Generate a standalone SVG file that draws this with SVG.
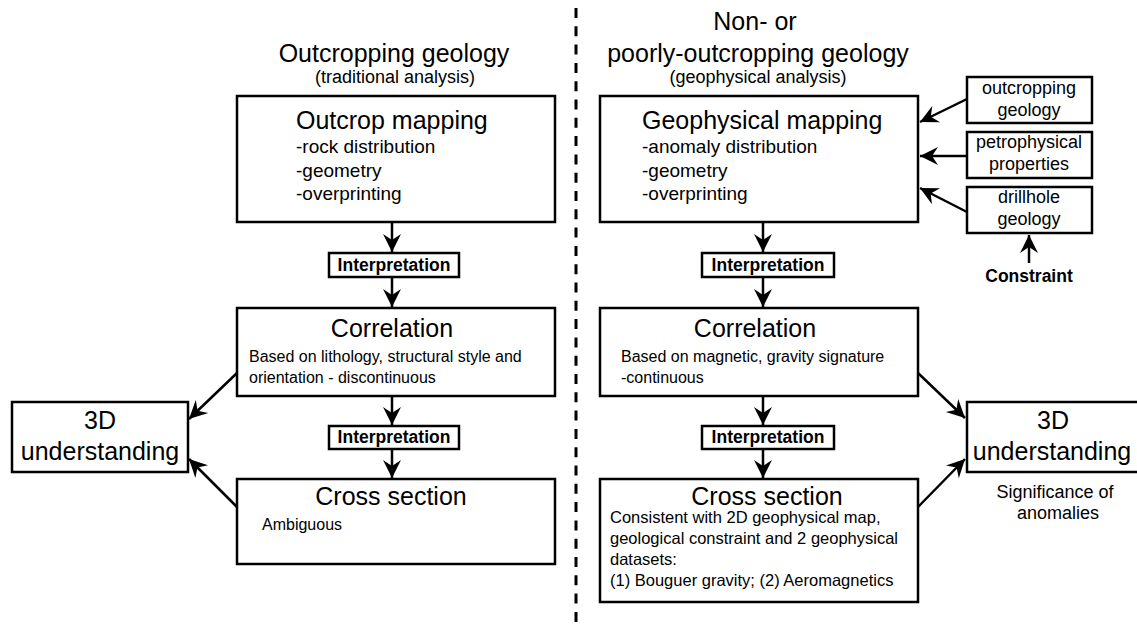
<svg xmlns="http://www.w3.org/2000/svg" width="1137" height="625" viewBox="0 0 1137 625">
<style>
text{font-family:"Liberation Sans",Arial,sans-serif;fill:#000}
.box{fill:#fff;stroke:#000;stroke-width:2.5}
.t25{font-size:25px}
.t19{font-size:19px}
.t18{font-size:18px}
.t16{font-size:16px}
.t165{font-size:16.5px}
.b{font-size:17.5px;font-weight:bold}
.c{text-anchor:middle}
.ln{fill:none;stroke:#000;stroke-width:2.5}
</style>
<defs>
<marker id="ah" markerUnits="userSpaceOnUse" markerWidth="24" markerHeight="24" viewBox="-20 -12 22 24" refX="0" refY="0" orient="auto">
<path d="M0,0 L-18,-9 L-12,0 L-18,9 Z" fill="#000"/>
</marker>
</defs>
<rect width="1137" height="625" fill="#fff"/>

<line x1="576" y1="8" x2="576" y2="625" stroke="#000" stroke-width="3" stroke-dasharray="10 8.3"/>

<g id="title-left">
<text class="t25 c" x="394" y="62">Outcropping geology</text>
<text class="t18 c" x="395" y="83">(traditional analysis)</text>
</g>
<g id="title-right">
<text class="t25 c" x="755" y="30">Non- or</text>
<text class="t25 c" x="758" y="62">poorly-outcropping geology</text>
<text class="t18 c" x="758" y="83">(geophysical analysis)</text>
</g>

<g id="outcrop-mapping">
<rect class="box" x="237" y="96" width="318" height="126"/>
<text class="t25" x="296" y="129">Outcrop mapping</text>
<text class="t19" x="296" y="153">-rock distribution</text>
<text class="t19" x="296" y="177">-geometry</text>
<text class="t19" x="296" y="200">-overprinting</text>
</g>
<g id="interp-l1">
<rect class="box" x="329" y="253" width="130" height="24"/>
<text class="b c" x="394" y="271">Interpretation</text>
</g>
<g id="correlation-l">
<rect class="box" x="237" y="308" width="318" height="88"/>
<text class="t25 c" x="392" y="337">Correlation</text>
<text class="t16" x="249" y="362">Based on lithology, structural style and</text>
<text class="t16" x="249" y="383">orientation - discontinuous</text>
</g>
<g id="interp-l2">
<rect class="box" x="329" y="426" width="130" height="23"/>
<text class="b c" x="394" y="443">Interpretation</text>
</g>
<g id="cross-section-l">
<rect class="box" x="237" y="479" width="318" height="85"/>
<text class="t25 c" x="391" y="505">Cross section</text>
<text class="t16" x="262" y="530">Ambiguous</text>
</g>
<g id="understanding-l">
<rect class="box" x="12" y="402" width="176" height="70"/>
<text class="t25 c" x="100" y="429">3D</text>
<text class="t25 c" x="100" y="460">understanding</text>
</g>

<g id="geophysical-mapping">
<rect class="box" x="600" y="96" width="318" height="126"/>
<text class="t25" x="642" y="129">Geophysical mapping</text>
<text class="t19" x="642" y="153">-anomaly distribution</text>
<text class="t19" x="642" y="177">-geometry</text>
<text class="t19" x="642" y="200">-overprinting</text>
</g>
<g id="interp-r1">
<rect class="box" x="702" y="253" width="132" height="24"/>
<text class="b c" x="768" y="271">Interpretation</text>
</g>
<g id="correlation-r">
<rect class="box" x="600" y="308" width="318" height="88"/>
<text class="t25 c" x="755" y="337">Correlation</text>
<text class="t16" x="621" y="362">Based on magnetic, gravity signature</text>
<text class="t16" x="621" y="383">-continuous</text>
</g>
<g id="interp-r2">
<rect class="box" x="702" y="426" width="132" height="23"/>
<text class="b c" x="768" y="443">Interpretation</text>
</g>
<g id="cross-section-r">
<rect class="box" x="600" y="479" width="318" height="123"/>
<text class="t25 c" x="767" y="505">Cross section</text>
<text class="t165" x="610" y="523">Consistent with 2D geophysical map,</text>
<text class="t165" x="610" y="544">geological constraint and 2 geophysical</text>
<text class="t165" x="610" y="565">datasets:</text>
<text class="t165" x="610" y="586">(1) Bouguer gravity; (2) Aeromagnetics</text>
</g>
<g id="understanding-r">
<rect class="box" x="967" y="402" width="180" height="70"/>
<text class="t25 c" x="1053" y="429">3D</text>
<text class="t25 c" x="1052" y="460">understanding</text>
<text class="t18 c" x="1055" y="498">Significance of</text>
<text class="t18 c" x="1058" y="519">anomalies</text>
</g>

<g id="outcropping-geology">
<rect class="box" x="967" y="77" width="125" height="46"/>
<text class="t18 c" x="1029" y="94">outcropping</text>
<text class="t18 c" x="1029" y="116">geology</text>
</g>
<g id="petrophysical-properties">
<rect class="box" x="967" y="132" width="125" height="46"/>
<text class="t18 c" x="1029" y="148">petrophysical</text>
<text class="t18 c" x="1029" y="170">properties</text>
</g>
<g id="drillhole-geology">
<rect class="box" x="967" y="187" width="125" height="46"/>
<text class="t18 c" x="1029" y="203">drillhole</text>
<text class="t18 c" x="1029" y="225">geology</text>
</g>
<g id="constraint">
<text class="b c" x="1029" y="282">Constraint</text>
</g>

<g id="connectors" class="ln">
<line class="ln" x1="392" y1="222" x2="392" y2="252" marker-end="url(#ah)"/>
<line class="ln" x1="392" y1="277" x2="392" y2="307" marker-end="url(#ah)"/>
<line class="ln" x1="392" y1="396" x2="392" y2="425" marker-end="url(#ah)"/>
<line class="ln" x1="392" y1="449" x2="392" y2="478" marker-end="url(#ah)"/>
<line class="ln" x1="237" y1="373" x2="189" y2="419" marker-end="url(#ah)"/>
<line class="ln" x1="237" y1="507" x2="189" y2="459" marker-end="url(#ah)"/>
<line class="ln" x1="763" y1="222" x2="763" y2="252" marker-end="url(#ah)"/>
<line class="ln" x1="763" y1="277" x2="763" y2="307" marker-end="url(#ah)"/>
<line class="ln" x1="763" y1="396" x2="763" y2="425" marker-end="url(#ah)"/>
<line class="ln" x1="763" y1="449" x2="763" y2="478" marker-end="url(#ah)"/>
<line class="ln" x1="918" y1="373" x2="965" y2="418" marker-end="url(#ah)"/>
<line class="ln" x1="918" y1="507" x2="965" y2="459" marker-end="url(#ah)"/>
<line class="ln" x1="967" y1="99" x2="920" y2="122" marker-end="url(#ah)"/>
<line class="ln" x1="967" y1="156" x2="920" y2="156" marker-end="url(#ah)"/>
<line class="ln" x1="967" y1="212" x2="920" y2="188" marker-end="url(#ah)"/>
<line class="ln" x1="1029" y1="263" x2="1029" y2="235" marker-end="url(#ah)"/>
</g>
</svg>
